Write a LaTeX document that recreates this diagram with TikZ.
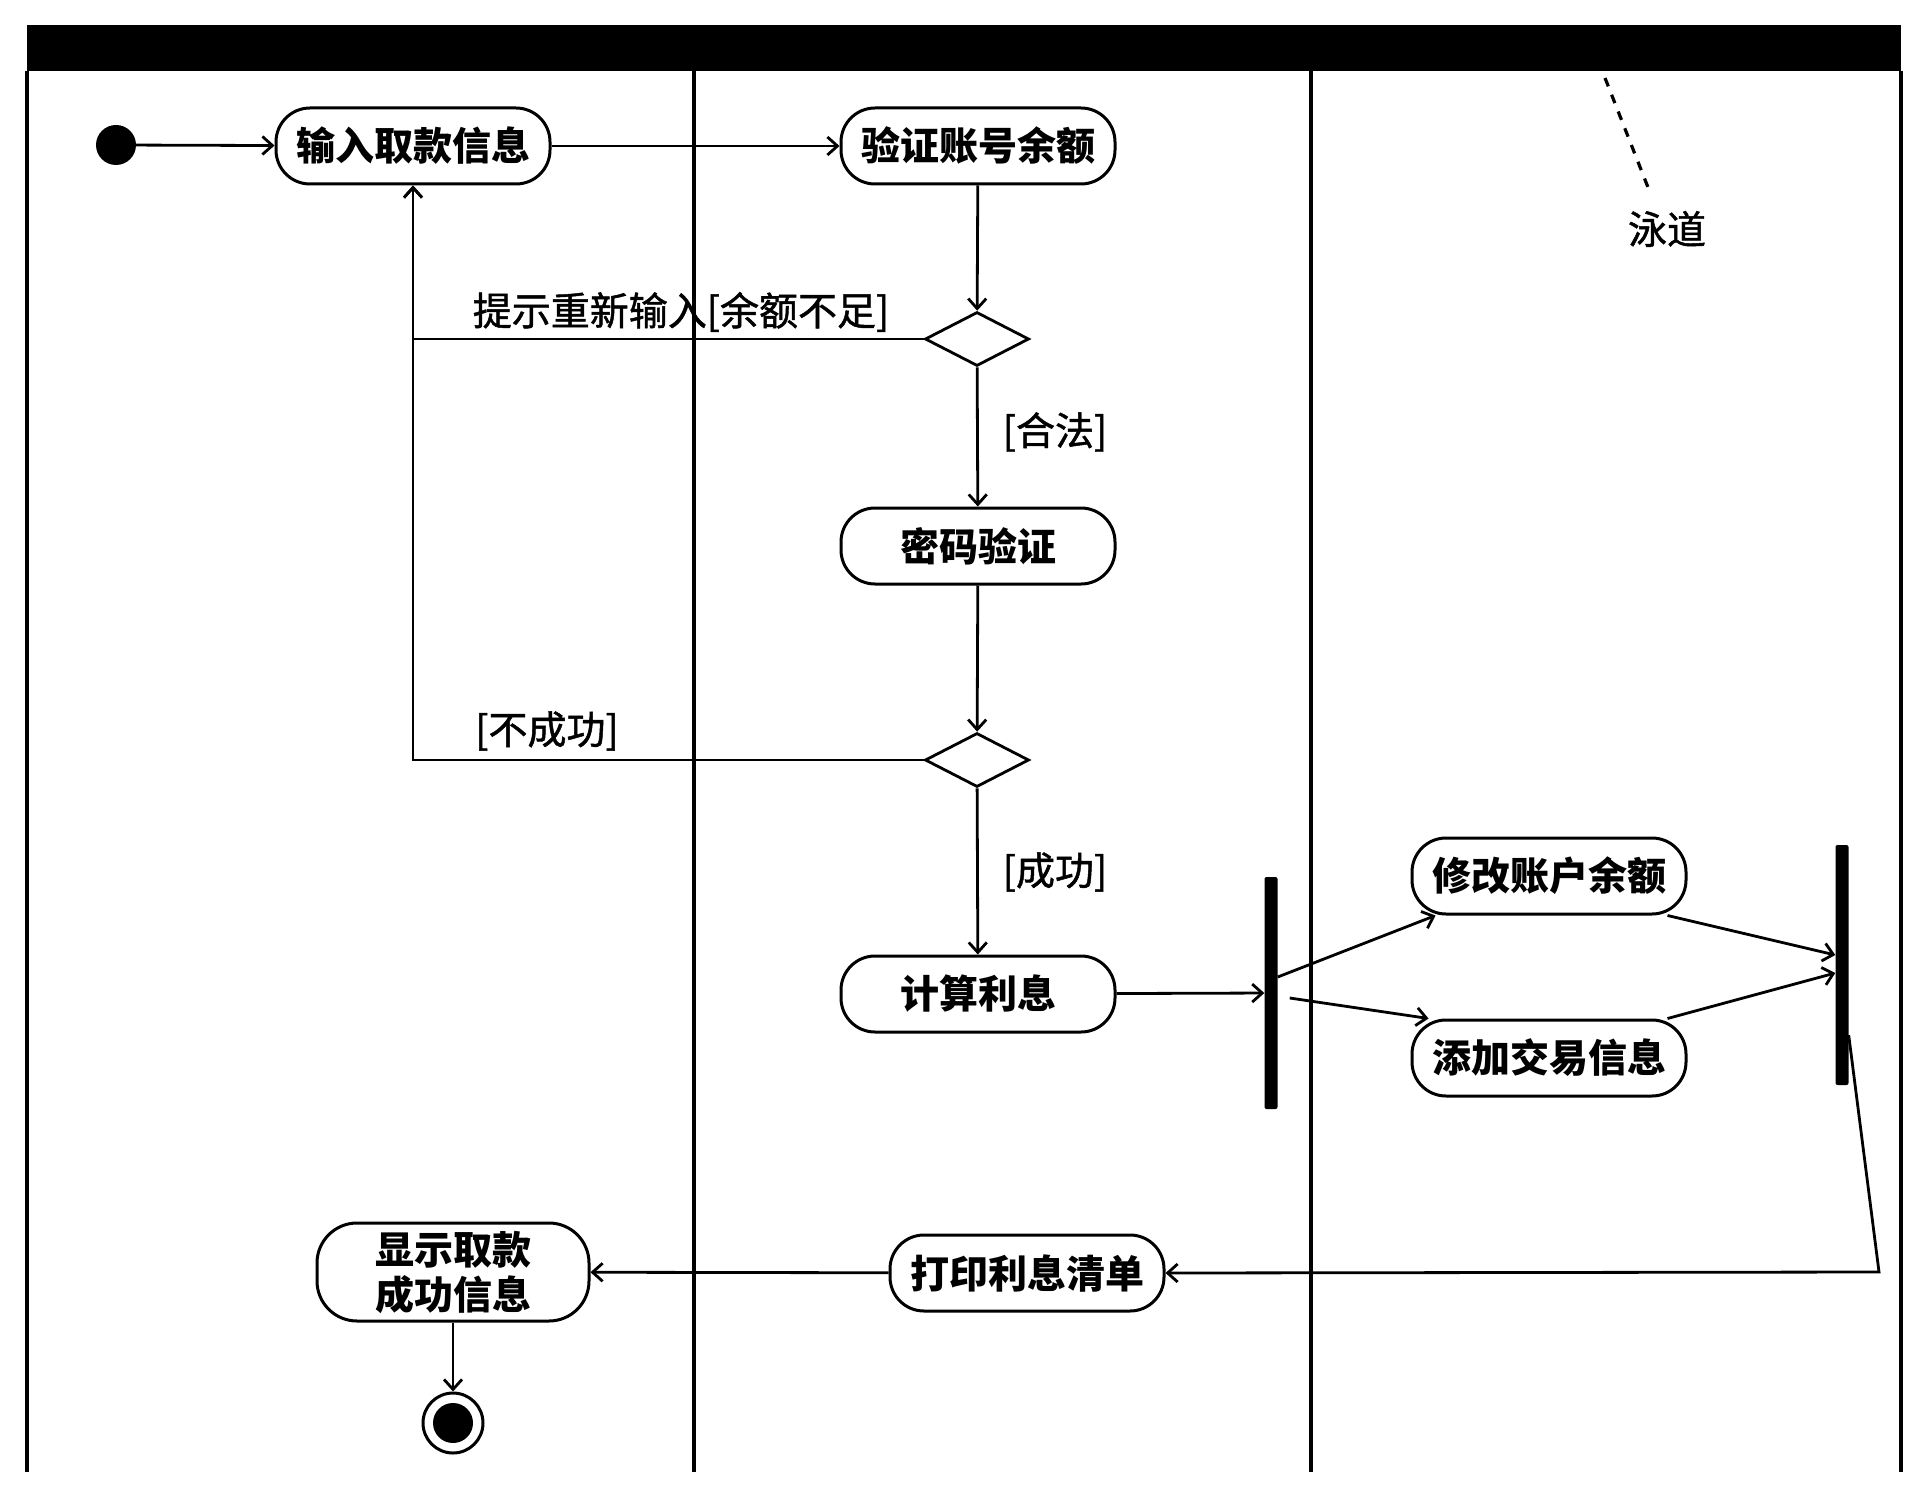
\documentclass[tikz,border=0pt]{standalone}
\usepackage{fontspec}
\newfontfamily\cjk{Noto Sans CJK SC}
\newfontfamily\cjkl{Noto Sans CJK SC}[FakeBold=1.2]
\usetikzlibrary{arrows.meta,shapes.geometric}
\begin{document}
\begin{tikzpicture}[x=1pt,y=-1pt,
 act/.style={draw,line width=3pt,rounded corners=34pt,minimum width=274pt,minimum height=76pt,inner sep=0pt,align=center,font=\cjk\bfseries\fontsize{39}{45}\selectfont},
 dec/.style={draw,diamond,line width=2.8pt,minimum width=104pt,minimum height=54pt,inner sep=0pt},
 bar/.style={fill=black,minimum width=13pt,minimum height=232pt,inner sep=0pt,rounded corners=2pt},
 flow/.style={line width=2.8pt,-{Straight Barb[length=10pt,width=18pt,line width=2.8pt]}},
 lbl/.style={font=\cjkl\fontsize{39}{45}\selectfont,inner sep=0pt},
 lane/.style={line width=3.2pt}]
\useasboundingbox (0,0) rectangle (1932,1495);
% swimlane frame
\fill (27,25) rectangle (1901,71);
\draw[lane] (27,71) -- (27,1472);
\draw[lane] (694,71) -- (694,1472);
\draw[lane] (1311,71) -- (1311,1472);
\draw[lane] (1901,71) -- (1901,1472);
% nodes
\node[circle,fill,minimum size=40pt,inner sep=0pt] (start) at (116,145) {};
\node[act] (in1) at (413,146) {输入取款信息};
\node[act] (ver) at (978,146) {验证账号余额};
\node[dec] (d1) at (977,339) {};
\node[act] (pwd) at (978,546) {密码验证};
\node[dec] (d2) at (977,760) {};
\node[act] (calc) at (978,994) {计算利息};
\node[bar] (fork) at (1271,993) {};
\node[act] (mod) at (1549,876) {修改账户余额};
\node[act] (add) at (1549,1058) {添加交易信息};
\node[bar,minimum height=240pt] (join) at (1842,965) {};
\node[act] (print) at (1027,1273) {打印利息清单};
\node[act,minimum width=272pt,minimum height=98pt,rounded corners=40pt] (show) at (453,1272) {显示取款\\成功信息};
\node[circle,draw,line width=3pt,minimum size=60pt,inner sep=0pt] (end) at (453,1423) {};
\fill (end.center) circle (20pt);
% labels
\node[lbl] (l1) at (681,312) {提示重新输入[余额不足]};
\node[lbl] (l2) at (1055,432) {[合法]};
\node[lbl] (l3) at (547,731) {[不成功]};
\node[lbl] (l4) at (1055,872) {[成功]};
\node[lbl] (lane) at (1667,229) {泳道};
\coordinate (lp) at (1605,78);
\coordinate (lq) at (1651,195);
\draw[line width=3.2pt,dash pattern=on 9pt off 9pt] (lp) -- (lq);
% connectors
\draw[flow] (start) -- (in1);
\draw[flow] (in1) -- (ver);
\draw[flow] (ver) -- (d1);
\draw[flow] (d1.west) -| (in1.south);
\draw[flow] (d1) -- (pwd);
\draw[flow] (pwd) -- (d2);
\draw[flow] (d2.west) -| (in1.south);
\draw[flow] (d2) -- (calc);
\draw[flow] (calc) -- (fork);
\draw[flow] ([yshift=16pt]fork.east) -- ([xshift=25pt]mod.south west);
\draw[flow] ([xshift=12pt,yshift=-5pt]fork.east) -- ([xshift=18pt]add.north west);
\draw[flow] ([xshift=-20pt]mod.south east) -- ([yshift=10pt]join.west);
\draw[flow] ([xshift=-20pt]add.north east) -- ([yshift=-8pt]join.west);
\coordinate (jc) at (1879,1272);
\draw[flow] ([yshift=50pt]join.south east) -- (jc) -- (print.east);
\draw[flow] (print) -- (show);
\draw[flow] (show) -- (end);
\end{tikzpicture}
\end{document}
